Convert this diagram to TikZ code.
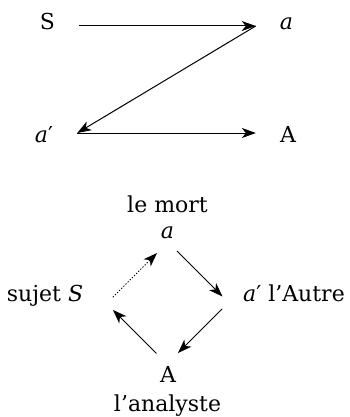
\documentclass[tikz,border=0pt]{standalone}
\usepackage{fontspec}
\setmainfont{DejaVu Serif}
\usetikzlibrary{arrows.meta}
\begin{document}
\begin{tikzpicture}[x=1pt,y=1pt,
  lbl/.style={inner sep=0pt, anchor=base, font=\fontsize{22}{26}\selectfont},
  top/.style={lbl, inner xsep=24pt, text height=8pt, text depth=0pt},
  bot/.style={lbl, inner xsep=24pt, text height=18pt, text depth=0pt},
  arr/.style={line width=1pt, -{Stealth[length=14pt,width=10pt,inset=4pt]}},
  dotarr/.style={line width=1pt, dash pattern=on 1.2pt off 1.8pt, -{Stealth[length=14pt,width=10pt,inset=4pt]}}]
\useasboundingbox (0,0) rectangle (349,-417);
% upper diagram
\node[top] (S) at (47.5,-30) {S};
\node[top] (a) at (286.5,-30) {\textit{a}};
\node[bot] (a1) at (44,-142) {\textit{a}′};
\node[bot] (A) at (288,-142) {A};
\draw[arr] (S.east) -- (a.west);
\draw[arr] (a.west) -- (a1.east);
\draw[arr] (a1.east) -- (A.west);
% lower diagram
\node[lbl] (mort) at (167.5,-212) {le mort};
\node[lbl] (ta) at (167.5,-238) {\textit{a}};
\node[lbl] (suj) at (45,-301) {sujet \textit{S}};
\node[lbl] (aut) at (294,-301) {\textit{a}′ l’Autre};
\node[lbl] (bA) at (168,-382) {A};
\node[lbl] (ana) at (167.5,-411) {l’analyste};
\coordinate (vT) at (168,-242);
\coordinate (vL) at (106.5,-303.5);
\coordinate (vR) at (228.5,-302.5);
\coordinate (vB) at (167,-364);
\draw[dotarr, shorten <=9pt, shorten >=15.5pt] (vL) -- (vT);
\draw[arr, shorten <=12.7pt, shorten >=8.5pt] (vT) -- (vR);
\draw[arr, shorten <=9pt, shorten >=15.5pt] (vR) -- (vB);
\draw[arr, shorten <=15pt, shorten >=9pt] (vB) -- (vL);
\end{tikzpicture}
\end{document}
